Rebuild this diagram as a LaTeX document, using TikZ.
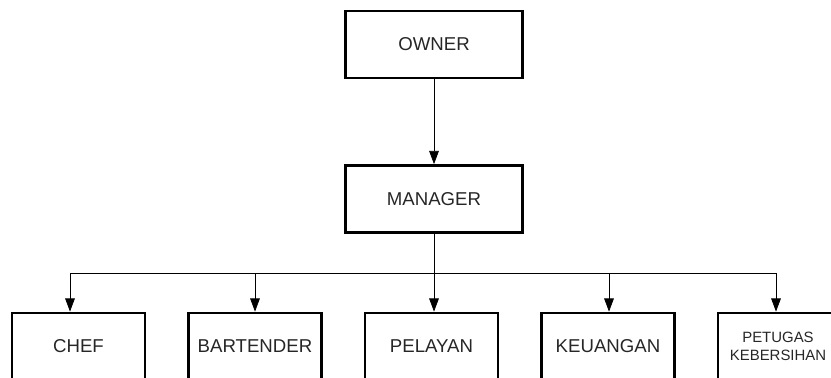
\documentclass[tikz,border=0pt]{standalone}
\usepackage{fontspec}
\setmainfont{Liberation Sans}
\usetikzlibrary{arrows.meta,positioning,calc}
\tikzset{
    box/.style={draw,line width=1.6pt,minimum height=1.34cm,inner sep=0pt,font=\fontsize{10.6}{12}\selectfont,text=black!85},
    top box/.style={box,minimum width=3.54cm},
    staff box/.style={box,minimum width=2.66cm},
    line/.style={thin,black},
    arr/.style={line,-{Triangle[length=7.5pt,width=5.5pt]}},
}

\begin{document}
\begin{tikzpicture}[x=0.02cm,y=-0.02cm]
        \useasboundingbox (0,0) rectangle (831,378);
        \begin{scope}
            \clip (0,0) rectangle (831,378);

            % top of the tree
            \node[top box] (owner) at (434,44.5) {OWNER};
            \node[top box] (manager) at (434,199) {MANAGER};
            \draw[arr] (owner.south) -- (manager.north);

            % staff
            \node[staff box] (chef) at (78.5,346.5) {CHEF};
            \node[staff box] (bartender) at (255,346.5) {BARTENDER};
            \node[staff box] (pelayan) at (431.5,346.5) {PELAYAN};
            \node[staff box] (keuangan) at (608,346.5) {KEUANGAN};
            \node[staff box,minimum width=2.4cm,align=center,font=\fontsize{8.5}{10.2}\selectfont] (petugas) at (778,346.5) {PETUGAS\\KEBERSIHAN};

            \coordinate (busL) at (70,273);
            \coordinate (busR) at (776,273);
            \draw[line] (manager.south) -- (manager.south |- busL);
            \draw[line] (busL) -- (busR);
            \foreach \n/\x in {chef/70,bartender/255,pelayan/434,keuangan/609,petugas/776}{
                \coordinate (d-\n) at (\x,273);
                \draw[arr] (d-\n) -- (d-\n |- \n.north);
            }
        \end{scope}
    \end{tikzpicture}
\end{document}
